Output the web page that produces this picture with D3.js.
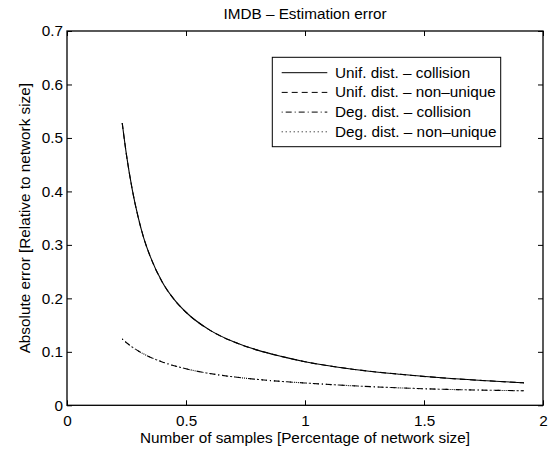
<!DOCTYPE html>
<html>
<head>
<meta charset="utf-8">
<script src="https://cdn.jsdelivr.net/npm/d3@7"></script>
<style>
body { margin: 0; background: #fff; }
svg { display: block; font-family: "Liberation Sans", Arial, Helvetica, sans-serif; }
</style>
</head>
<body>
<svg id="chart" width="553" height="451"></svg>
<script>
const samples = [0.232, 0.25, 0.274, 0.3, 0.321, 0.35, 0.4, 0.45, 0.5, 0.6, 0.7, 0.8, 0.9, 1.0, 1.2, 1.4, 1.6, 1.8, 1.92];
const unifCollision = [0.528, 0.468, 0.404, 0.350, 0.315, 0.278, 0.2306, 0.198, 0.174, 0.1406, 0.1187, 0.1032, 0.0915, 0.0815, 0.0675, 0.058, 0.0505, 0.045, 0.042];
const unifNonUnique = [0.528, 0.468, 0.404, 0.350, 0.315, 0.278, 0.2306, 0.198, 0.174, 0.1406, 0.1187, 0.1032, 0.0915, 0.0815, 0.0675, 0.058, 0.0505, 0.045, 0.042];
const degCollision = [0.124, 0.117, 0.1089, 0.1015, 0.0963, 0.090, 0.0811, 0.074, 0.0682, 0.0594, 0.0532, 0.0484, 0.0447, 0.0417, 0.0365, 0.0325, 0.0297, 0.028, 0.0272];
const degNonUnique = [0.124, 0.117, 0.1089, 0.1015, 0.0963, 0.090, 0.0811, 0.074, 0.0682, 0.0594, 0.0532, 0.0484, 0.0447, 0.0417, 0.0365, 0.0325, 0.0297, 0.028, 0.0272];
const seriesNames = ["Unif. dist. \u2013 collision", "Unif. dist. \u2013 non\u2013unique", "Deg. dist. \u2013 collision", "Deg. dist. \u2013 non\u2013unique"];
const xTicks = [0, 0.5, 1, 1.5, 2];
const yTicks = [0, 0.1, 0.2, 0.3, 0.4, 0.5, 0.6, 0.7];
const titleText = "IMDB \u2013 Estimation error";
const xLabel = "Number of samples [Percentage of network size]";
const yLabel = "Absolute error [Relative to network size]";

const dashes = [null, "6,4", "1,3,6,3", "1,3"];
const seriesValues = [unifCollision, unifNonUnique, degCollision, degNonUnique];

const svg = d3.select("#chart");
const L = 67, R = 543, T = 31, B = 405.3;
const x = d3.scaleLinear().domain([0, 2]).range([L, R]);
const y = d3.scaleLinear().domain([0, 0.7]).range([B, T]);
const fs = 15.3;

// lines
const line = d3.line().x(d => x(d[0])).y(d => y(d[1])).curve(d3.curveMonotoneX);
const order = [1, 0, 3, 2];
order.forEach(i => {
  const pts = samples.map((s, k) => [s, seriesValues[i][k]]);
  svg.append("path").datum(pts)
    .attr("d", line)
    .attr("fill", "none")
    .attr("stroke", "#000")
    .attr("stroke-width", 1.1)
    .attr("stroke-dasharray", dashes[i]);
});

// axes with inward ticks
const tickLen = 5;
const gx = svg.append("g").attr("transform", `translate(0,${B})`)
  .call(d3.axisBottom(x).tickValues(xTicks).tickSize(-tickLen).tickPadding(10).tickFormat(d3.format("")));
const gxt = svg.append("g").attr("transform", `translate(0,${T})`)
  .call(d3.axisTop(x).tickValues(xTicks).tickSize(-tickLen).tickFormat(""));
const gy = svg.append("g").attr("transform", `translate(${L},0)`)
  .call(d3.axisLeft(y).tickValues(yTicks).tickSize(-tickLen).tickPadding(4).tickFormat(d3.format("")));
const gyr = svg.append("g").attr("transform", `translate(${R},0)`)
  .call(d3.axisRight(y).tickValues(yTicks).tickSize(-tickLen).tickFormat(""));
[gx, gxt, gy, gyr].forEach(g => {
  g.select(".domain").remove();
  g.selectAll(".tick line").attr("stroke", "#000").attr("stroke-width", 1);
  g.selectAll("text").attr("font-size", fs).attr("fill", "#000").attr("font-family", "Liberation Sans, Arial, sans-serif");
});
svg.append("rect").attr("x", L).attr("y", T).attr("width", R - L).attr("height", B - T)
  .attr("fill", "none").attr("stroke", "#000").attr("stroke-width", 1.3);

// title & labels
svg.append("text").attr("x", (L + R) / 2).attr("y", 19).attr("text-anchor", "middle")
  .attr("font-size", fs).text(titleText);
svg.append("text").attr("x", (L + R) / 2).attr("y", 443).attr("text-anchor", "middle")
  .attr("font-size", fs).text(xLabel);
svg.append("text").attr("transform", `translate(30,${(T + B) / 2}) rotate(-90)`)
  .attr("text-anchor", "middle").attr("font-size", fs).text(yLabel);

// legend
const lg = svg.append("g");
lg.append("rect").attr("x", 272.3).attr("y", 57.3).attr("width", 228.4).attr("height", 89.4)
  .attr("fill", "#fff").attr("stroke", "#000").attr("stroke-width", 1);
seriesNames.forEach((name, i) => {
  const yy = 72.7 + i * 19.7;
  lg.append("line").attr("x1", 281.7).attr("x2", 327.3).attr("y1", yy).attr("y2", yy)
    .attr("stroke", "#000").attr("stroke-width", 1).attr("stroke-dasharray", dashes[i]);
  lg.append("text").attr("x", 335).attr("y", yy + 4.8).attr("font-size", fs).text(name);
});
</script>
</body>
</html>
